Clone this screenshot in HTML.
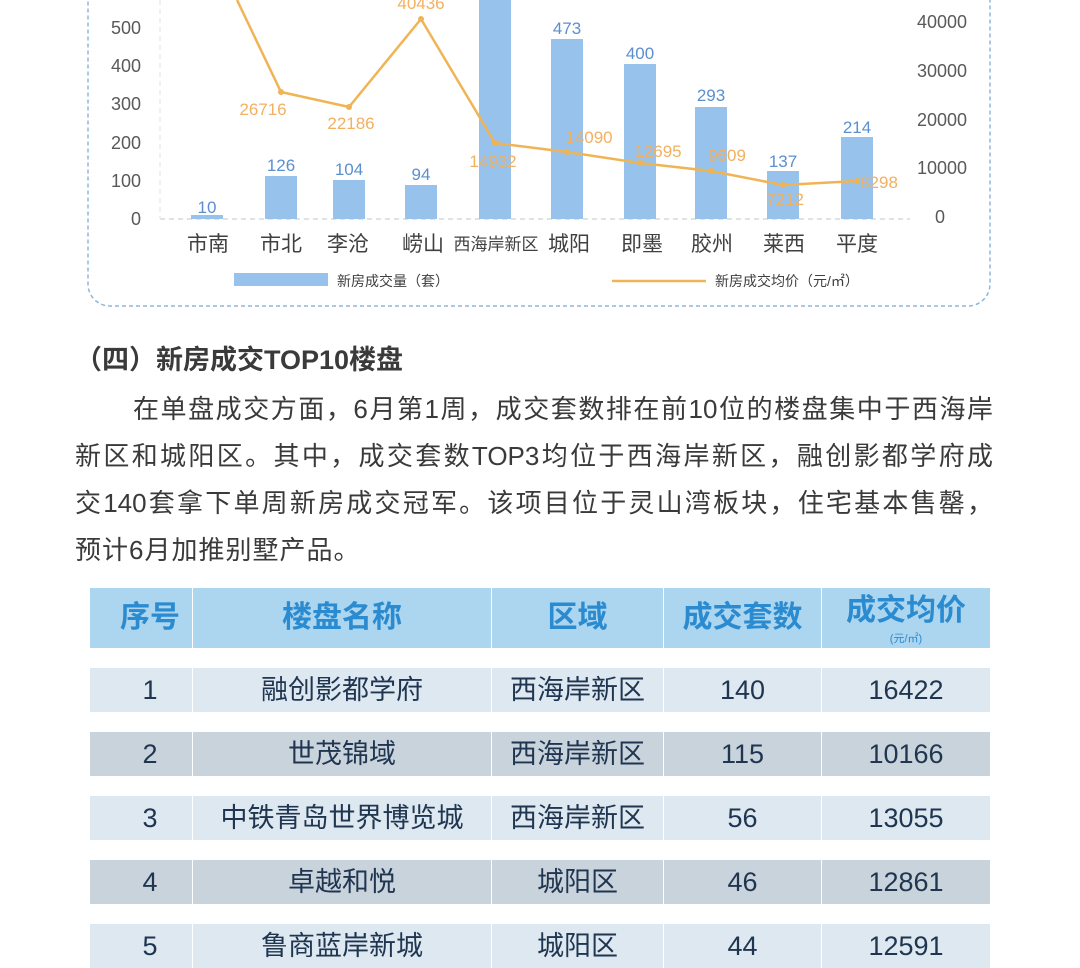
<!DOCTYPE html>
<html><head><meta charset="utf-8"><style>
body{margin:0;width:1080px;height:955px;background:#fff;position:relative;overflow:hidden;font-family:"Liberation Sans","Noto Sans CJK SC",sans-serif;}
.ln{position:absolute;font-size:26px;color:#3a3a3a;white-space:nowrap;text-align:justify;text-align-last:justify;}
table{position:absolute;left:90px;top:588px;width:900px;border-collapse:separate;border-spacing:0;}
td{text-align:center;color:#1f3550;font-size:27px;padding:0;border-left:1px solid #fff;line-height:30px}
td:first-child{border-left:none;padding-left:18px}
.h td{background:#acd5ef;color:#2b8bd0;font-weight:bold;font-size:30px;height:60px;}
.g td{height:20px;background:transparent;border:none}
.r1 td{background:#dde8f0;height:44px}
.r2 td{background:#c9d3dc;height:44px}
</style></head><body>
<svg width="1080" height="320" style="position:absolute;left:0;top:0" font-family="Liberation Sans,Noto Sans CJK SC,sans-serif">
<rect x="88" y="-20" width="902" height="326" rx="22" fill="none" stroke="#8fb6dc" stroke-width="1.5" stroke-dasharray="4,3"/>
<line x1="160" y1="219" x2="910" y2="219" stroke="#d8d8d8" stroke-dasharray="5,4" stroke-width="1.5"/>
<line x1="160" y1="0" x2="160" y2="219" stroke="#e0e0e0" stroke-dasharray="5,4"/>
<g font-size="18" fill="#595959" text-anchor="end">
<text x="141" y="34">500</text><text x="141" y="72">400</text><text x="141" y="110">300</text><text x="141" y="149">200</text><text x="141" y="187">100</text><text x="141" y="225">0</text>
<text x="967" y="28">40000</text><text x="967" y="77">30000</text><text x="967" y="126">20000</text><text x="967" y="174">10000</text><text x="945" y="223">0</text>
</g>
<g fill="#96c2ec">
<rect x="191" y="215" width="32" height="4"/><rect x="265" y="176" width="32" height="43"/><rect x="333" y="180" width="32" height="39"/><rect x="405" y="185" width="32" height="34"/><rect x="479" y="0" width="32" height="219"/><rect x="551" y="39" width="32" height="180"/><rect x="624" y="64" width="32" height="155"/><rect x="695" y="107" width="32" height="112"/><rect x="767" y="171" width="32" height="48"/><rect x="841" y="137" width="32" height="82"/>
</g>
<g font-size="17" fill="#5b8fcf" text-anchor="middle">
<text x="207" y="213">10</text><text x="281" y="171">126</text><text x="349" y="175">104</text><text x="421" y="180">94</text><text x="567" y="34">473</text><text x="640" y="59">400</text><text x="711" y="101">293</text><text x="783" y="167">137</text><text x="857" y="133">214</text>
</g>
<polyline points="237,0 281,92 349,107 421,19 495,143 567,152 640,163 711,171 783,185 857,181" fill="none" stroke="#f0b454" stroke-width="2.5"/>
<g fill="#f0b454"><circle cx="281" cy="92" r="3"/><circle cx="349" cy="107" r="3"/><circle cx="421" cy="19" r="3"/><circle cx="495" cy="143" r="3"/><circle cx="567" cy="152" r="3"/><circle cx="640" cy="163" r="3"/><circle cx="711" cy="171" r="3"/><circle cx="783" cy="185" r="3"/><circle cx="857" cy="181" r="3"/></g>
<g font-size="17" fill="#f2b060" text-anchor="middle">
<text x="421" y="9">40436</text><text x="263" y="115">26716</text><text x="351" y="129">22186</text><text x="493" y="167">14932</text><text x="589" y="143">14090</text><text x="658" y="157">12695</text><text x="727" y="161">9609</text><text x="785" y="205">7212</text><text x="879" y="188">8298</text>
</g>
<g font-size="21" fill="#404040" text-anchor="middle">
<text x="208" y="251">市南</text><text x="281" y="251">市北</text><text x="348" y="251">李沧</text><text x="423" y="251">崂山</text><text x="496" y="250" font-size="17">西海岸新区</text><text x="569" y="251">城阳</text><text x="642" y="251">即墨</text><text x="712" y="251">胶州</text><text x="784" y="251">莱西</text><text x="857" y="251">平度</text>
</g>
<rect x="234" y="273" width="94" height="13" fill="#96c2ec"/>
<text x="337" y="286" font-size="14" fill="#404040">新房成交量（套）</text>
<line x1="612" y1="281" x2="706" y2="281" stroke="#f0b454" stroke-width="2.5"/>
<text x="715" y="286" font-size="14" fill="#404040">新房成交均价（元/㎡）</text>
</svg>
<div class="ln" style="left:75px;top:338px;font-size:27px;font-weight:bold;color:#3a3a3a;text-align:left;text-align-last:left">（四）新房成交TOP10楼盘</div>
<div class="ln" style="left:133px;top:389px;width:860px">在单盘成交方面，6月第1周，成交套数排在前10位的楼盘集中于西海岸</div>
<div class="ln" style="left:75px;top:436px;width:918px">新区和城阳区。其中，成交套数TOP3均位于西海岸新区，融创影都学府成</div>
<div class="ln" style="left:75px;top:483px;width:918px">交140套拿下单周新房成交冠军。该项目位于灵山湾板块，住宅基本售罄，</div>
<div class="ln" style="left:75px;top:530px;text-align:left;text-align-last:left;letter-spacing:1px">预计6月加推别墅产品。</div>
<table>
<colgroup><col style="width:102px"><col style="width:299px"><col style="width:172px"><col style="width:158px"><col style="width:169px"></colgroup>
<tr class="h"><td>序号</td><td>楼盘名称</td><td>区域</td><td>成交套数</td><td style="position:relative"><span style="position:relative;top:-7px">成交均价</span><span style="position:absolute;left:0;right:0;bottom:3px;font-size:11px;font-weight:normal;line-height:12px">(元/㎡)</span></td></tr>
<tr class="g"><td colspan="5"></td></tr>
<tr class="r1"><td>1</td><td>融创影都学府</td><td>西海岸新区</td><td>140</td><td>16422</td></tr>
<tr class="g"><td colspan="5"></td></tr>
<tr class="r2"><td>2</td><td>世茂锦域</td><td>西海岸新区</td><td>115</td><td>10166</td></tr>
<tr class="g"><td colspan="5"></td></tr>
<tr class="r1"><td>3</td><td>中铁青岛世界博览城</td><td>西海岸新区</td><td>56</td><td>13055</td></tr>
<tr class="g"><td colspan="5"></td></tr>
<tr class="r2"><td>4</td><td>卓越和悦</td><td>城阳区</td><td>46</td><td>12861</td></tr>
<tr class="g"><td colspan="5"></td></tr>
<tr class="r1"><td>5</td><td>鲁商蓝岸新城</td><td>城阳区</td><td>44</td><td>12591</td></tr>
</table>
</body></html>
